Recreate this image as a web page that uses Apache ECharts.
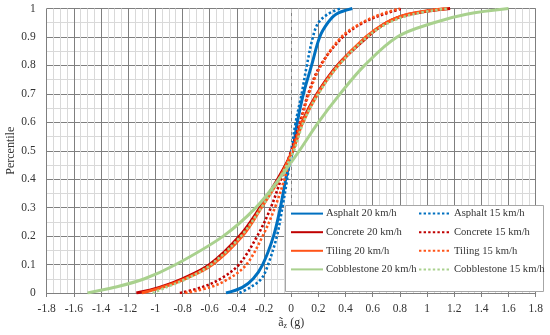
<!DOCTYPE html>
<html>
<head>
<meta charset="utf-8">
<script src="https://cdn.jsdelivr.net/npm/echarts@6/dist/echarts.min.js"></script>
<style>html,body{margin:0;padding:0;background:#fff}#c{width:550px;height:335px}</style>
</head>
<body>
<div id="c"></div>
<script>
// Percentile levels (y) shared by all curves
const pLevels = [0, 0.02, 0.05, 0.1, 0.2, 0.3, 0.4, 0.5, 0.6, 0.7, 0.8, 0.9, 0.95, 0.98, 1];
// x values (g) at each percentile level
const asphalt20 = [-0.48, -0.36, -0.28, -0.21, -0.13, -0.08, -0.04, 0.01, 0.045, 0.09, 0.15, 0.21, 0.27, 0.33, 0.45];
const asphalt15 = [-0.38, -0.30, -0.22, -0.17, -0.105, -0.065, -0.03, 0.0, 0.033, 0.077, 0.115, 0.16, 0.20, 0.27, 0.36];
const concrete20 = [-1.14, -0.97, -0.80, -0.60, -0.38, -0.23, -0.10, 0.01, 0.08, 0.19, 0.34, 0.56, 0.70, 0.87, 1.17];
const concrete15 = [-0.82, -0.66, -0.52, -0.385, -0.25, -0.15, -0.075, 0.0, 0.065, 0.125, 0.215, 0.38, 0.53, 0.68, 0.82];
const tiling20 = [-1.10, -0.95, -0.78, -0.58, -0.36, -0.22, -0.09, 0.01, 0.085, 0.195, 0.345, 0.55, 0.70, 0.86, 1.15];
const tiling15 = [-0.78, -0.60, -0.46, -0.33, -0.21, -0.12, -0.05, 0.01, 0.07, 0.13, 0.22, 0.37, 0.52, 0.66, 0.80];
const cobble20 = [-1.50, -1.30, -1.08, -0.85, -0.50, -0.26, -0.09, 0.06, 0.20, 0.36, 0.54, 0.78, 1.05, 1.29, 1.60];
const cobble15 = [-1.02, -0.92, -0.77, -0.59, -0.37, -0.22, -0.09, 0.02, 0.09, 0.20, 0.35, 0.56, 0.72, 0.90, 1.15];

const xTicks = [-1.8, -1.6, -1.4, -1.2, -1, -0.8, -0.6, -0.4, -0.2, 0, 0.2, 0.4, 0.6, 0.8, 1, 1.2, 1.4, 1.6, 1.8];

const names20 = ['Asphalt 20 km/h', 'Concrete 20 km/h', 'Tiling 20 km/h', 'Cobblestone 20 km/h'];
const names15 = ['Asphalt 15 km/h', 'Concrete 15 km/h', 'Tiling 15 km/h', 'Cobblestone 15 km/h'];

const FONT = 'Liberation Serif';
const colors = { asphalt: '#0070C0', concrete: '#C00000', tiling: '#FF5419', cobble: '#A9D18E' };

function mk(name, xs, color, dotted) {
  return {
    name: name,
    type: 'line',
    data: pLevels.map((p, i) => [xs[i], p]),
    smooth: 0.35,
    symbol: 'none',
    lineStyle: dotted ? { color: color, width: 2.6, type: [2.4, 2.2] } : { color: color, width: 3 },
    itemStyle: { color: color }
  };
}

const series = [
  mk(names20[0], asphalt20, colors.asphalt, false),
  mk(names15[0], asphalt15, colors.asphalt, true),
  mk(names20[1], concrete20, colors.concrete, false),
  mk(names15[1], concrete15, colors.concrete, true),
  mk(names20[2], tiling20, colors.tiling, false),
  mk(names15[2], tiling15, colors.tiling, true),
  mk(names20[3], cobble20, colors.cobble, false),
  mk(names15[3], cobble15, colors.cobble, true)
];
// dashed zero line
series[0].markLine = {
  silent: true, symbol: 'none', label: { show: false },
  lineStyle: { color: '#bfbfbf', type: [4, 3], width: 1 },
  data: [{ xAxis: 0 }]
};

const majorColors = xTicks.map(v => v === 0 ? 'rgba(0,0,0,0)' : '#7f7f7f');

const legendCommon = {
  orient: 'vertical', top: 208, z: 60,
  itemWidth: 32, itemHeight: 14, itemGap: 7.4, padding: 0,
  itemStyle: { opacity: 0 },
  textStyle: { fontFamily: FONT, fontSize: 10.6, color: '#333', padding: [0, 0, 0, -2] }
};

const chart = echarts.init(document.getElementById('c'), null, { renderer: 'canvas' });
chart.setOption({
  animation: false,
  textStyle: { fontFamily: FONT },
  grid: { left: 46.7, right: 14.3, top: 8.5, bottom: 42, containLabel: false, outerBoundsMode: 'none' },
  xAxis: {
    type: 'value', min: -1.8, max: 1.8, interval: 0.2,
    name: '{a|ã}{s|z}{a| (g)}',
    nameLocation: 'middle', nameGap: 23, nameMoveOverlap: false,
    nameTextStyle: {
      rich: {
        a: { fontFamily: FONT, fontSize: 12, color: '#333' },
        s: { fontFamily: FONT, fontSize: 8, color: '#333', verticalAlign: 'bottom', padding: [6, 0, 0, 0] }
      }
    },
    axisLine: { show: true, onZero: false, lineStyle: { color: '#7f7f7f', width: 1 } },
    axisTick: { show: true, length: 4, lineStyle: { color: '#7f7f7f' } },
    axisLabel: { fontFamily: FONT, fontSize: 11.5, color: '#333', margin: 10,
      formatter: v => String(Math.round(v * 10) / 10) },
    splitLine: { show: true, lineStyle: { color: majorColors, width: 1 } },
    minorTick: { show: false, splitNumber: 4 },
    minorSplitLine: { show: true, lineStyle: { color: '#d9d9d9', width: 1 } }
  },
  yAxis: {
    type: 'value', min: 0, max: 1, interval: 0.1,
    name: 'Percentile', nameLocation: 'middle', nameGap: 30, nameMoveOverlap: false,
    nameTextStyle: { fontFamily: FONT, fontSize: 12, color: '#333' },
    axisLine: { show: true, lineStyle: { color: '#7f7f7f', width: 1 } },
    axisTick: { show: false },
    axisLabel: { fontFamily: FONT, fontSize: 11.5, color: '#333', margin: 11,
      formatter: v => String(Math.round(v * 10) / 10) },
    splitLine: { show: true, lineStyle: { color: '#7f7f7f', width: 1 } },
    minorTick: { show: false, splitNumber: 2 },
    minorSplitLine: { show: true, lineStyle: { color: '#d9d9d9', width: 1 } }
  },
  graphic: [{
    type: 'rect', z: 50,
    shape: { x: 285.5, y: 205.5, width: 258, height: 86 },
    style: { fill: '#fff', stroke: '#a6a6a6', lineWidth: 1 }
  }],
  legend: [
    Object.assign({}, legendCommon, { data: names20, left: 290 }),
    Object.assign({}, legendCommon, { data: names15, left: 418 })
  ],
  series: series
});
</script>
</body>
</html>
